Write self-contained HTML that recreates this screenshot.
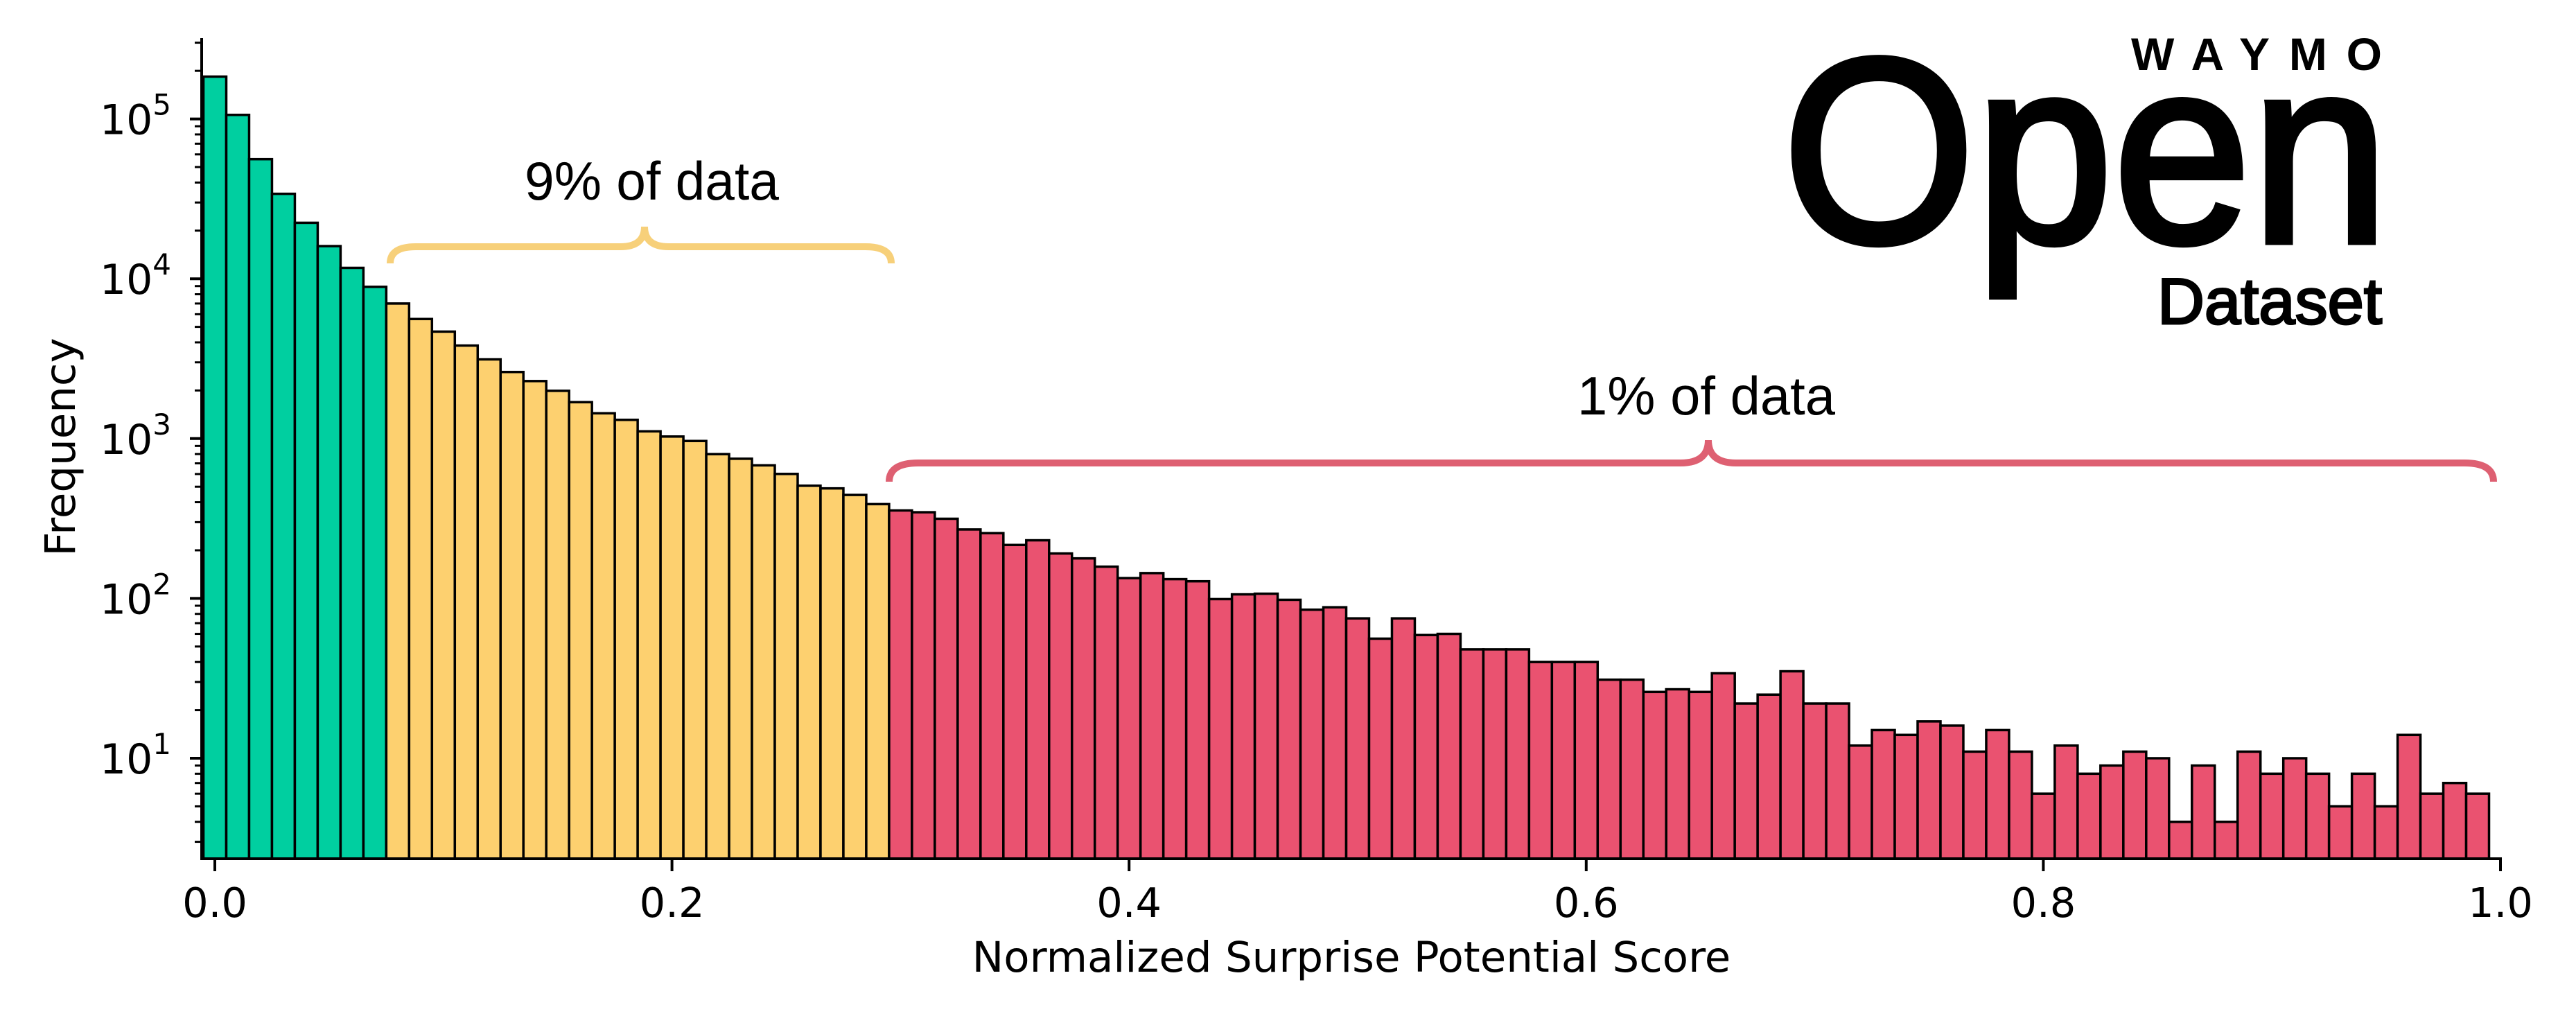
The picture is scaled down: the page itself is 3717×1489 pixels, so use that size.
<!DOCTYPE html>
<html><head><meta charset="utf-8"><style>
html,body{margin:0;padding:0;background:#fff;}
svg{display:block;}
</style></head><body>
<svg id="chart" width="3717" height="1489" viewBox="0 0 3717 1489" xmlns="http://www.w3.org/2000/svg">
<rect x="0" y="0" width="3717" height="1489" fill="#fff"/>
<g id="bars"></g>
<g id="axes"></g>
<path d="M563,380 Q563,356 600,356 H895 Q930,356 930,327 Q930,356 965,356 H1249 Q1286,356 1286,380" fill="none" stroke="#F7D07A" stroke-width="10"/>
<text x="757" y="288" font-family="Liberation Sans, sans-serif" font-size="78" textLength="367" lengthAdjust="spacingAndGlyphs">9% of data</text>
<path d="M1283,695 Q1283,668 1325,668 H2425 Q2465,668 2465,635 Q2465,668 2505,668 H3556 Q3598,668 3598,695" fill="none" stroke="#DE6072" stroke-width="10"/>
<text x="2276" y="598" font-family="Liberation Sans, sans-serif" font-size="78" textLength="372" lengthAdjust="spacingAndGlyphs">1% of data</text>
<g>
<text x="3075" y="101" font-family="Liberation Sans, sans-serif" font-weight="bold" font-size="66" textLength="362" lengthAdjust="spacing">WAYMO</text>
<text x="2572" y="349" font-family="Liberation Sans, sans-serif" font-size="380" stroke="#000" stroke-width="9" textLength="875" lengthAdjust="spacingAndGlyphs">Open</text>
<text x="3113" y="467" font-family="Liberation Sans, sans-serif" font-size="94" stroke="#000" stroke-width="3" textLength="324" lengthAdjust="spacingAndGlyphs">Dataset</text>
</g>
<text x="0" y="0" transform="translate(108,645) rotate(-90)" text-anchor="middle" font-family="DejaVu Sans, sans-serif" font-size="61">Frequency</text>
<text x="1950" y="1402" text-anchor="middle" font-family="DejaVu Sans, sans-serif" font-size="61">Normalized Surprise Potential Score</text>
</svg>
<script>
const greenCounts = [184000, 106000, 56000, 34000, 22400, 16000, 11700, 8900];
const yellowCounts = [7000, 5600, 4670, 3820, 3130, 2610, 2290, 1990, 1690, 1440, 1310, 1110, 1030, 966, 799, 748, 680, 601, 507, 488, 444, 389];
const redCounts = [355, 346, 315, 270, 256, 216, 231, 191, 178, 158, 134, 144, 132, 128, 99, 106, 107, 98, 85, 88,
  75, 56, 75, 59, 60, 48, 48, 48, 40, 40, 40, 31, 31, 26, 27, 26, 34, 22, 25, 35,
  22, 22, 12, 15, 14, 17, 16, 11, 15, 11, 6, 12, 8, 9, 11, 10, 4, 9, 4, 11,
  8, 10, 8, 5, 8, 5, 14, 6, 7, 6];
const binWidth = 0.01;
const xTicks = [0.0, 0.2, 0.4, 0.6, 0.8, 1.0];
const xTickLabels = ["0.0", "0.2", "0.4", "0.6", "0.8", "1.0"];
const yTickExps = [1, 2, 3, 4, 5];

const NS = "http://www.w3.org/2000/svg";
const X0 = 310, XW = 3298, YBOT = 1239, YTOP = 55, AXL = 291, AXR = 3608;
const Y1 = 1094, DEC = 230.6;
function xs(v){ return X0 + v * XW; }
function ys(v){ return Y1 - DEC * (Math.log10(v) - 1); }
function mk(tag, attrs, parent){
  const e = document.createElementNS(NS, tag);
  for (const k in attrs) e.setAttribute(k, attrs[k]);
  parent.appendChild(e);
  return e;
}
const barsG = document.getElementById('bars');
const axesG = document.getElementById('axes');

function drawGroup(counts, startIdx, color, name){
  counts.forEach((c, i) => {
    const idx = startIdx + i;
    const center = idx * binWidth;
    const xl = xs(center - binWidth/2), xr = xs(center + binWidth/2);
    const yt = ys(c);
    const r = mk('rect', {x: xl, y: yt, width: xr - xl, height: YBOT - yt, fill: color, stroke: '#000', 'stroke-width': 3.5}, barsG);
    
    
  });
}
drawGroup(greenCounts, 0, '#00CFA0', 'green');
drawGroup(yellowCounts, greenCounts.length, '#FDD06F', 'yellow');
drawGroup(redCounts, greenCounts.length + yellowCounts.length, '#EA5270', 'red');

const ls = mk('line', {x1: AXL, y1: YTOP, x2: AXL, y2: YBOT + 2, stroke: '#000', 'stroke-width': 4}, axesG);


const bs = mk('line', {x1: AXL - 2, y1: YBOT, x2: AXR + 2, y2: YBOT, stroke: '#000', 'stroke-width': 4}, axesG);



xTicks.forEach((t, i) => {
  const x = xs(t);
  const tk = mk('line', {x1: x, y1: YBOT, x2: x, y2: YBOT + 18, stroke: '#000', 'stroke-width': 4}, axesG);
  
  
  const tl = mk('text', {x: x, y: 1323, 'text-anchor': 'middle', 'font-family': 'DejaVu Sans, sans-serif', 'font-size': 59}, axesG);
  tl.textContent = xTickLabels[i];
  
  
});

for (let e = 0; e <= 5; e++){
  for (let m = 1; m <= 9; m++){
    const v = m * Math.pow(10, e);
    const y = ys(v);
    if (y < YTOP || y > YBOT) continue;
    const major = (m === 1);
    const tk = mk('line', {x1: AXL - (major ? 17 : 10), y1: y, x2: AXL, y2: y, stroke: '#000', 'stroke-width': major ? 4 : 3}, axesG);
    
    
  }
}
yTickExps.forEach(ex => {
  const y = ys(Math.pow(10, ex));
  const t = mk('text', {x: 247, y: y + 22, 'text-anchor': 'end', 'font-family': 'DejaVu Sans, sans-serif', 'font-size': 60}, axesG);
  
  
  const base = mk('tspan', {}, t);
  base.textContent = '10';
  const sup = mk('tspan', {'font-size': 42, dy: -28}, t);
  sup.textContent = String(ex);
});
</script>
</body></html>
